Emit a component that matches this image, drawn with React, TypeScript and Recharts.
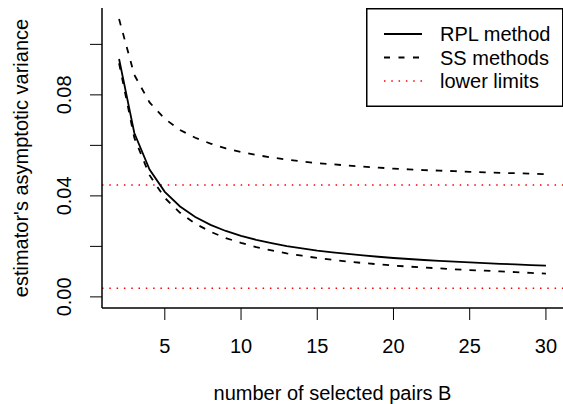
import { LineChart, Line, XAxis, YAxis, ReferenceLine, Legend, Label } from 'recharts'

const pairsB = [2, 3, 4, 5, 6, 7, 8, 9, 10, 11, 12, 13, 14, 15, 16, 17, 18, 19, 20, 21, 22, 23, 24, 25, 26, 27, 28, 29, 30]
const rplMethod = [0.0942, 0.0649, 0.0504, 0.0416, 0.0358, 0.0316, 0.0285, 0.0261, 0.0242, 0.0226, 0.0213, 0.0201, 0.0192, 0.0183, 0.0176, 0.017, 0.0164, 0.0159, 0.0154, 0.015, 0.0146, 0.0143, 0.014, 0.0137, 0.0134, 0.0131, 0.0129, 0.0126, 0.0124]
const ssUpper = [0.1100, 0.0879, 0.077, 0.0705, 0.0661, 0.063, 0.0607, 0.0588, 0.0574, 0.0562, 0.0552, 0.0544, 0.0536, 0.053, 0.0525, 0.052, 0.0516, 0.0512, 0.0508, 0.0505, 0.0502, 0.05, 0.0498, 0.0495, 0.0493, 0.0491, 0.049, 0.0488, 0.0486]
const ssLower = [0.0925, 0.063, 0.0482, 0.0392, 0.0333, 0.029, 0.0258, 0.0233, 0.0214, 0.0197, 0.0184, 0.0172, 0.0163, 0.0154, 0.0147, 0.014, 0.0134, 0.0129, 0.0124, 0.012, 0.0116, 0.0113, 0.0109, 0.0106, 0.0104, 0.0101, 0.0098, 0.0095, 0.0092]
const lowerLimits = [0.0443, 0.0034]
const xTicks = [5, 10, 15, 20, 25, 30]
const yTicks = [0, 0.02, 0.04, 0.06, 0.08, 0.1]
const yLabelled = ['0.00', '0.04', '0.08']

const data = pairsB.map((b, i) => ({ B: b, rpl: rplMethod[i], ssHi: ssUpper[i], ssLo: ssLower[i] }))

const FONT = '"Liberation Sans", Arial, Helvetica, sans-serif'
const XDOM: [number, number] = [0.88, 31.12]
const YDOM: [number, number] = [-0.0044, 0.1144]

const XTick = (p: any) => (
  <text x={p.x} y={p.y} dy={33} textAnchor="middle" fontSize={20} fontFamily={FONT} fill="#000">
    {p.payload.value}
  </text>
)

const YTick = (p: any) => {
  const s = Number(p.payload.value).toFixed(2)
  if (!yLabelled.includes(s)) return <g />
  return (
    <text x={p.x} y={p.y} transform={`rotate(-90 ${p.x} ${p.y})`} textAnchor="middle" fontSize={20} fontFamily={FONT} fill="#000">
      {s}
    </text>
  )
}

const LegendBox = () => (
  <svg width={197} height={99} style={{ display: 'block' }}>
    <rect x={0.75} y={0.75} width={196} height={97.5} fill="#fff" stroke="#000" strokeWidth={1.5} />
    <line x1={18} x2={56} y1={26} y2={26} stroke="#000" strokeWidth={1.8} />
    <line x1={18} x2={56} y1={49.5} y2={49.5} stroke="#000" strokeWidth={1.8} strokeDasharray="6 8.5" />
    <line x1={18} x2={56} y1={73} y2={73} stroke="#ff0000" strokeWidth={1.5} strokeDasharray="1.5 5.8" />
    <g fontSize={20} fontFamily={FONT} fill="#000">
      <text x={74} y={33}>RPL method</text>
      <text x={74} y={56.5}>SS methods</text>
      <text x={74} y={80}>lower limits</text>
    </g>
  </svg>
)

export default function App() {
  return (
    <div style={{ position: 'absolute', left: 0, top: 0, background: '#fff' }}>
      <LineChart width={563} height={404} data={data} margin={{ top: 8, right: 0, left: 0, bottom: 0 }}>
        <XAxis dataKey="B" type="number" domain={XDOM} ticks={xTicks} allowDataOverflow
          height={96} tickSize={12} tickMargin={0} tick={XTick}
          axisLine={{ stroke: '#000', strokeWidth: 1.5 }} tickLine={{ stroke: '#000', strokeWidth: 1 }}>
          <Label content={(props: any) => {
            const vb = props.viewBox
            return (
              <text x={vb.x + vb.width / 2} y={400} textAnchor="middle" fontSize={20} fontFamily={FONT} fill="#000">
                number of selected pairs B
              </text>
            )
          }} />
        </XAxis>
        <XAxis xAxisId="top" dataKey="B" type="number" domain={XDOM} orientation="top" height={0}
          tick={false} tickLine={false} axisLine={{ stroke: '#000', strokeWidth: 1.5 }} allowDataOverflow />
        <YAxis type="number" domain={YDOM} ticks={yTicks} allowDataOverflow width={102}
          tickSize={12} tickMargin={18.5} tick={YTick}
          axisLine={{ stroke: '#000', strokeWidth: 1.5 }} tickLine={{ stroke: '#000', strokeWidth: 1 }}>
          <Label content={() => (
            <text x={27.5} y={158} transform="rotate(-90 27.5 158)" textAnchor="middle" fontSize={20} fontFamily={FONT} fill="#000">
              estimator's asymptotic variance
            </text>
          )} />
        </YAxis>
        <YAxis yAxisId="right" type="number" domain={YDOM} orientation="right" width={0}
          tick={false} tickLine={false} axisLine={{ stroke: '#000', strokeWidth: 1.5 }} allowDataOverflow />
        {lowerLimits.map((v) => (
          <ReferenceLine key={v} y={v} stroke="#ff0000" strokeWidth={1.5} strokeDasharray="1.5 5.8" />
        ))}
        <Line type="linear" dataKey="rpl" stroke="#000" strokeWidth={1.8} dot={false} isAnimationActive={false} />
        <Line type="linear" dataKey="ssHi" stroke="#000" strokeWidth={1.8} strokeDasharray="6.5 8" dot={false} isAnimationActive={false} />
        <Line type="linear" dataKey="ssLo" stroke="#000" strokeWidth={1.8} strokeDasharray="6.5 8" dot={false} isAnimationActive={false} />
        <Legend layout="vertical" align="center" verticalAlign="middle" content={LegendBox}
          wrapperStyle={{ position: 'absolute', left: 366, top: 8, width: 197, height: 99, margin: 0, padding: 0 }} />
      </LineChart>
    </div>
  )
}
